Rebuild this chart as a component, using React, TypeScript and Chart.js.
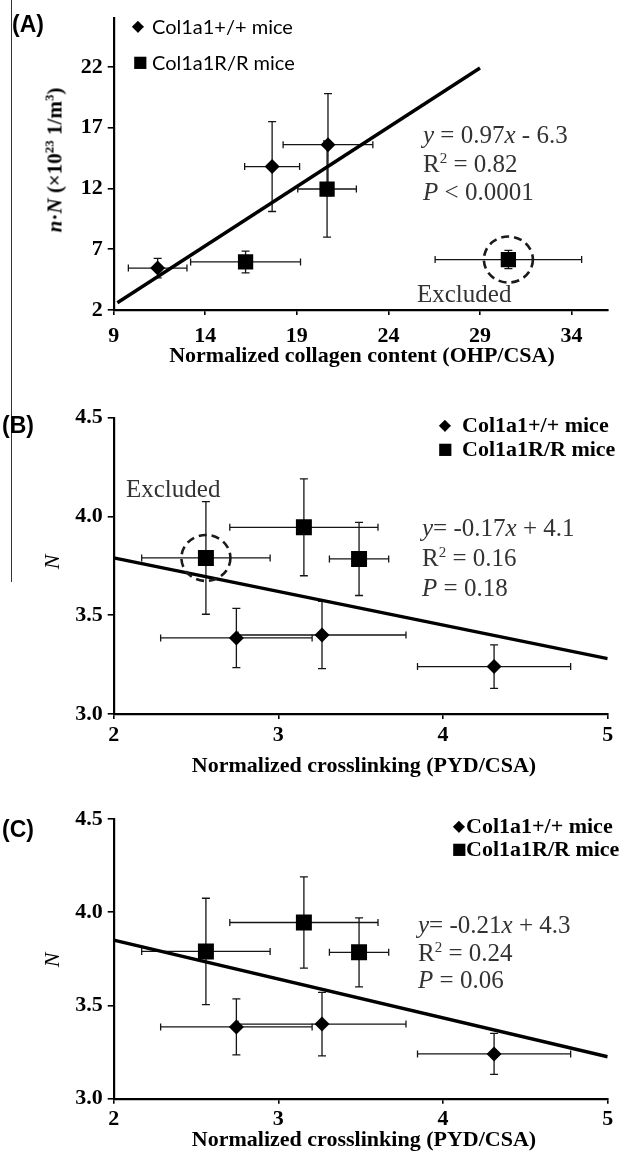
import React, { useEffect, useRef } from "react";
import { Chart, registerables } from "chart.js";

Chart.register(...registerables);

const SERIF = '"Liberation Serif", "Times New Roman", serif';
const SANS = 'Lato, "Open Sans", sans-serif';
const ARIAL = '"Liberation Sans", Arial, sans-serif';

// ---------- Panel A data ----------
const A_X_TICKS = [9, 14, 19, 24, 29, 34];
const A_Y_TICKS = [2, 7, 12, 17, 22];
const A_WT_X = [11.4, 17.65, 20.7];
const A_WT_Y = [5.45, 13.8, 15.6];
const A_WT_XERR = [1.6, 1.5, 2.45];
const A_WT_YERR = [0.8, 3.7, 4.2];
const A_RR_X = [16.2, 20.65, 30.55];
const A_RR_Y = [5.95, 11.95, 6.15];
const A_RR_XERR = [3.0, 1.6, 4.0];
const A_RR_YERR = [0.9, 3.95, 0.75];
const A_EXCLUDED_INDEX = 2;
const A_TREND_X = [9.2, 29];
const A_TREND_Y = [2.6, 21.9];

// ---------- Panels B and C data ----------
const BC_X_TICKS = [2, 3, 4, 5];
const BC_Y_TICKS = [3.0, 3.5, 4.0, 4.5];
const BC_WT_X = [2.745, 3.265, 4.31];
const BC_WT_Y = [3.385, 3.4, 3.24];
const BC_WT_XERR = [0.46, 0.51, 0.465];
const BC_WT_YERR = [0.15, 0.17, 0.11];
const BC_RR_X = [2.56, 3.155, 3.49];
const BC_RR_Y = [3.79, 3.945, 3.785];
const BC_RR_XERR = [0.39, 0.45, 0.18];
const BC_RR_YERR = [0.285, 0.245, 0.185];
const B_EXCLUDED_INDEX = 0;
const B_TREND_X = [2, 5];
const B_TREND_Y = [3.79, 3.28];
const C_TREND_X = [2, 5];
const C_TREND_Y = [3.85, 3.225];

type Series = { x: number[]; y: number[]; xerr: number[]; yerr: number[]; style: "rectRot" | "rect"; radius: number };

type PanelProps = {
  top: number;
  height: number;
  plotLeft: number;
  plotRight: number;
  plotTop: number;
  plotBottom: number;
  xMin: number;
  xMax: number;
  yMin: number;
  yMax: number;
  xTicks: number[];
  yTicks: number[];
  yFmt: (v: number) => string;
  wt: Series;
  rr: Series;
  trendX: number[];
  trendY: number[];
  excluded: number | null;
  tickPadX: number;
};

const W = 619;

function Panel(p: PanelProps) {
  const ref = useRef<HTMLCanvasElement>(null);
  useEffect(() => {
    const canvas = ref.current;
    if (!canvas) return;
    const seriesList = [p.wt, p.rr];
    const plugin = {
      id: "errbars",
      beforeDatasetsDraw(chart: any) {
        const ctx = chart.ctx;
        const xs = chart.scales.x;
        const ys = chart.scales.y;
        ctx.save();
        ctx.strokeStyle = "#151515";
        ctx.lineWidth = 1.3;
        seriesList.forEach((s) => {
          s.x.forEach((xv, i) => {
            const yv = s.y[i];
            const px = xs.getPixelForValue(xv);
            const py = ys.getPixelForValue(yv);
            const x0 = xs.getPixelForValue(xv - s.xerr[i]);
            const x1 = xs.getPixelForValue(xv + s.xerr[i]);
            const y0 = ys.getPixelForValue(yv - s.yerr[i]);
            const y1 = ys.getPixelForValue(yv + s.yerr[i]);
            ctx.beginPath();
            ctx.moveTo(x0, py);
            ctx.lineTo(x1, py);
            ctx.moveTo(x0, py - 3.5);
            ctx.lineTo(x0, py + 3.5);
            ctx.moveTo(x1, py - 3.5);
            ctx.lineTo(x1, py + 3.5);
            ctx.moveTo(px, y0);
            ctx.lineTo(px, y1);
            ctx.moveTo(px - 4, y0);
            ctx.lineTo(px + 4, y0);
            ctx.moveTo(px - 4, y1);
            ctx.lineTo(px + 4, y1);
            ctx.stroke();
          });
        });
        ctx.restore();
      },
      afterDatasetsDraw(chart: any) {
        if (p.excluded === null) return;
        const ctx = chart.ctx;
        const cx = chart.scales.x.getPixelForValue(p.rr.x[p.excluded]);
        const cy = chart.scales.y.getPixelForValue(p.rr.y[p.excluded]);
        ctx.save();
        ctx.strokeStyle = "#1a1a1a";
        ctx.lineWidth = 2.6;
        ctx.setLineDash([8, 5]);
        ctx.beginPath();
        ctx.ellipse(cx, cy, 24.5, 23, 0, 0, Math.PI * 2);
        ctx.stroke();
        ctx.restore();
      },
    };
    const tickFont = { family: SERIF, size: 22, weight: "bold" as const };
    const chart = new Chart(canvas, {
      type: "scatter",
      data: {
        datasets: [
          {
            data: p.wt.x.map((x, i) => ({ x, y: p.wt.y[i] })),
            pointStyle: p.wt.style,
            pointRadius: p.wt.radius,
            backgroundColor: "#000",
            borderColor: "#000",
            borderWidth: 0,
            order: 0,
          },
          {
            data: p.rr.x.map((x, i) => ({ x, y: p.rr.y[i] })),
            pointStyle: p.rr.style,
            pointRadius: p.rr.radius,
            backgroundColor: "#000",
            borderColor: "#000",
            borderWidth: 0,
            order: 0,
          },
          {
            data: p.trendX.map((x, i) => ({ x, y: p.trendY[i] })),
            showLine: true,
            pointRadius: 0,
            borderColor: "#000",
            borderWidth: 3.4,
            order: 1,
          },
        ],
      },
      options: {
        animation: false,
        responsive: false,
        events: [],
        layout: {
          padding: { left: 0, right: W - p.plotRight, top: p.plotTop - p.top, bottom: 0 },
        },
        plugins: { legend: { display: false }, tooltip: { enabled: false } },
        scales: {
          x: {
            type: "linear",
            min: p.xMin,
            max: p.xMax,
            afterBuildTicks: (s: any) => {
              s.ticks = p.xTicks.map((v) => ({ value: v }));
            },
            afterFit: (s: any) => {
              s.height = p.top + p.height - p.plotBottom;
            },
            grid: { display: true, drawOnChartArea: false, drawTicks: true, tickLength: 5, color: "#000", lineWidth: 1.6 },
            border: { display: true, color: "#000", width: 2.2 },
            ticks: { color: "#000", font: tickFont, padding: p.tickPadX, maxRotation: 0, autoSkip: false, callback: (v: any) => String(v) },
          },
          y: {
            type: "linear",
            min: p.yMin,
            max: p.yMax,
            afterBuildTicks: (s: any) => {
              s.ticks = p.yTicks.map((v) => ({ value: v }));
            },
            afterFit: (s: any) => {
              s.width = p.plotLeft;
            },
            grid: { display: true, drawOnChartArea: false, drawTicks: true, tickLength: 6, color: "#000", lineWidth: 1.6 },
            border: { display: true, color: "#000", width: 2.2 },
            ticks: { color: "#000", font: tickFont, padding: 5, autoSkip: false, callback: (v: any) => p.yFmt(Number(v)) },
          },
        },
      },
      plugins: [plugin],
    });
    return () => chart.destroy();
  }, []);
  return (
    <canvas
      ref={ref}
      width={W}
      height={p.height}
      style={{ position: "absolute", left: 0, top: p.top, width: W, height: p.height }}
    />
  );
}

function T(props: { x: number; y: number; center?: boolean; style?: React.CSSProperties; children: React.ReactNode }) {
  return (
    <div
      style={{
        position: "absolute",
        left: props.x,
        top: props.y,
        transform: props.center ? "translate(-50%, -50%)" : "translateY(-50%)",
        whiteSpace: "nowrap",
        lineHeight: 1,
        ...props.style,
      }}
    >
      {props.children}
    </div>
  );
}

const annStyle: React.CSSProperties = { fontFamily: SERIF, fontSize: 25, color: "#333" };
const titleStyle: React.CSSProperties = { fontFamily: SERIF, fontSize: 22, fontWeight: "bold", color: "#000" };
const panelLabel: React.CSSProperties = { fontFamily: ARIAL, fontSize: 23, fontWeight: "bold", color: "#000" };
const legA: React.CSSProperties = { fontFamily: SANS, fontSize: 20, color: "#000" };
const legBC: React.CSSProperties = { fontFamily: SERIF, fontSize: 22, fontWeight: "bold", color: "#000" };
const sym: React.CSSProperties = { fontFamily: '"DejaVu Sans", sans-serif', fontSize: 16, color: "#000" };

export default function App() {
  const wtA: Series = { x: A_WT_X, y: A_WT_Y, xerr: A_WT_XERR, yerr: A_WT_YERR, style: "rectRot", radius: 7.5 };
  const rrA: Series = { x: A_RR_X, y: A_RR_Y, xerr: A_RR_XERR, yerr: A_RR_YERR, style: "rect", radius: 10.8 };
  const wtBC: Series = { x: BC_WT_X, y: BC_WT_Y, xerr: BC_WT_XERR, yerr: BC_WT_YERR, style: "rectRot", radius: 7.5 };
  const rrBC: Series = { x: BC_RR_X, y: BC_RR_Y, xerr: BC_RR_XERR, yerr: BC_RR_YERR, style: "rect", radius: 11.3 };
  const f0 = (v: number) => String(v);
  const f1 = (v: number) => v.toFixed(1);
  return (
    <div style={{ position: "absolute", left: 0, top: 0, width: W, height: 1159, background: "#fff", overflow: "hidden" }}>
      <Panel
        top={0}
        height={345}
        plotLeft={113.7}
        plotRight={610}
        plotTop={16}
        plotBottom={310}
        xMin={9}
        xMax={36}
        yMin={2}
        yMax={26}
        xTicks={A_X_TICKS}
        yTicks={A_Y_TICKS}
        yFmt={f0}
        wt={wtA}
        rr={rrA}
        trendX={A_TREND_X}
        trendY={A_TREND_Y}
        excluded={A_EXCLUDED_INDEX}
        tickPadX={8}
      />
      <Panel
        top={395}
        height={360}
        plotLeft={113.7}
        plotRight={610.7}
        plotTop={417.7}
        plotBottom={714}
        xMin={2}
        xMax={5}
        yMin={3}
        yMax={4.5}
        xTicks={BC_X_TICKS}
        yTicks={BC_Y_TICKS}
        yFmt={f1}
        wt={wtBC}
        rr={rrBC}
        trendX={B_TREND_X}
        trendY={B_TREND_Y}
        excluded={B_EXCLUDED_INDEX}
        tickPadX={3}
      />
      <Panel
        top={800}
        height={359}
        plotLeft={113.7}
        plotRight={610.7}
        plotTop={819}
        plotBottom={1098.7}
        xMin={2}
        xMax={5}
        yMin={3}
        yMax={4.5}
        xTicks={BC_X_TICKS}
        yTicks={BC_Y_TICKS}
        yFmt={f1}
        wt={wtBC}
        rr={rrBC}
        trendX={C_TREND_X}
        trendY={C_TREND_Y}
        excluded={null}
        tickPadX={2}
      />

      {/* left vertical rule */}
      <div style={{ position: "absolute", left: 11, top: 0, width: 1.3, height: 582, background: "#333" }} />

      {/* Panel A texts */}
      <T x={12} y={24} style={panelLabel}>(A)</T>
      <T x={138} y={26} center style={sym}>◆</T>
      <T x={152} y={26} style={legA}>Col1a1+/+ mice</T>
      <T x={140} y={62} center style={sym}>■</T>
      <T x={152} y={62} style={legA}>Col1a1R/R mice</T>
      <div style={{ position: "absolute", left: 423, top: 135 - 14, lineHeight: "28.5px", whiteSpace: "nowrap", ...annStyle }}>
        <div><i>y</i> = 0.97<i>x</i> - 6.3</div>
        <div>R<sup style={{ fontSize: "0.6em", lineHeight: 0 }}>2</sup> = 0.82</div>
        <div><i>P</i> &lt; 0.0001</div>
      </div>
      <T x={417} y={293} style={annStyle}>Excluded</T>
      <T x={362} y={355} center style={titleStyle}>Normalized collagen content (OHP/CSA)</T>
      <div
        style={{
          position: "absolute",
          left: 55,
          top: 160,
          transform: "translate(-50%, -50%) rotate(-90deg)",
          whiteSpace: "nowrap",
          lineHeight: 1,
          ...titleStyle,
          fontSize: 21,
        }}
      >
        <i>n</i>·<i>N</i> (×10<sup style={{ fontSize: "0.62em", lineHeight: 0 }}>23</sup> 1/m<sup style={{ fontSize: "0.62em", lineHeight: 0 }}>3</sup>)
      </div>

      {/* Panel B texts */}
      <T x={2} y={425} style={panelLabel}>(B)</T>
      <T x={445} y={425} center style={sym}>◆</T>
      <T x={462} y={425} style={legBC}>Col1a1+/+ mice</T>
      <T x={445} y={449} center style={sym}>■</T>
      <T x={462} y={449} style={legBC}>Col1a1R/R mice</T>
      <div style={{ position: "absolute", left: 422, top: 528 - 15, lineHeight: "30px", whiteSpace: "nowrap", ...annStyle }}>
        <div><i>y</i>= -0.17<i>x</i> + 4.1</div>
        <div>R<sup style={{ fontSize: "0.6em", lineHeight: 0 }}>2</sup> = 0.16</div>
        <div><i>P</i> = 0.18</div>
      </div>
      <T x={126} y={488} style={annStyle}>Excluded</T>
      <T x={364} y={765} center style={titleStyle}>Normalized crosslinking (PYD/CSA)</T>
      <T x={52} y={562} center style={{ fontFamily: SERIF, fontSize: 22, fontStyle: "italic", transform: "translate(-50%, -50%) rotate(-90deg)" }}>N</T>

      {/* Panel C texts */}
      <T x={2} y={829} style={panelLabel}>(C)</T>
      <T x={459} y={826} center style={sym}>◆</T>
      <T x={466} y={826} style={legBC}>Col1a1+/+ mice</T>
      <T x={459} y={849} center style={sym}>■</T>
      <T x={466} y={849} style={legBC}>Col1a1R/R mice</T>
      <div style={{ position: "absolute", left: 418, top: 925 - 14, lineHeight: "27.5px", whiteSpace: "nowrap", ...annStyle }}>
        <div><i>y</i>= -0.21<i>x</i> + 4.3</div>
        <div>R<sup style={{ fontSize: "0.6em", lineHeight: 0 }}>2</sup> = 0.24</div>
        <div><i>P</i> = 0.06</div>
      </div>
      <T x={364} y={1139} center style={titleStyle}>Normalized crosslinking (PYD/CSA)</T>
      <T x={52} y={960} center style={{ fontFamily: SERIF, fontSize: 22, fontStyle: "italic", transform: "translate(-50%, -50%) rotate(-90deg)" }}>N</T>
    </div>
  );
}
